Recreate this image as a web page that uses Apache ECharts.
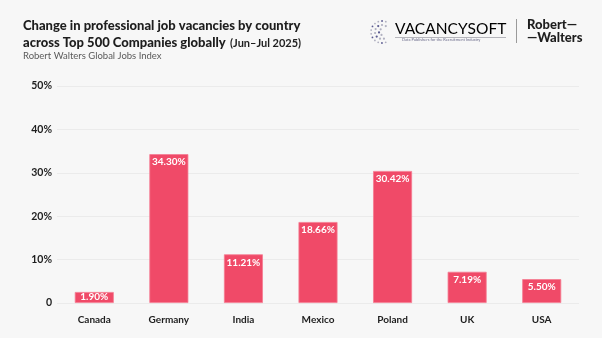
<!DOCTYPE html>
<html><head><meta charset="utf-8">
<script src="https://cdn.jsdelivr.net/npm/echarts@6/dist/echarts.min.js"></script>
<style>html,body{margin:0;padding:0;background:#f7f7f7}#c{width:602px;height:338px}</style>
</head><body><div id="c"></div>
<script>
const categories = ['Canada','Germany','India','Mexico','Poland','UK','USA'];
const values = [1.90, 34.30, 11.21, 18.66, 30.42, 7.19, 5.50];
const yTicks = [0, 10, 20, 30, 40, 50];

const FONT = 'Lato';
const chart = echarts.init(document.getElementById('c'));

// decorative globe dots for logo
const dots = [];
const cx = 382, cy = 32;
for (let r = 3; r <= 11; r += 4) {
  const n = Math.round(r * 1.6);
  for (let i = 0; i < n; i++) {
    const a = (i / n) * Math.PI * 2 + r;
    if (Math.cos(a) > 0.55) continue;
    dots.push({type:'circle', shape:{cx: cx + r*Math.cos(a), cy: cy + r*Math.sin(a), r: r > 8 ? 0.9 : 1.1},
      style:{fill: i % 3 === 0 ? '#5a5a90' : '#b0b0c0'}});
  }
}

const barData = values.map(v => v < 3 ? {value: v, label: {distance: 0, lineHeight: 10}} : v);

chart.setOption({
  backgroundColor: '#f7f7f7',
  textStyle: {fontFamily: FONT},
  title: [{
    text: '{b|Change in professional job vacancies by country}\n{b|across Top 500 Companies globally} {n|(Jun–Jul 2025)}',
    left: 18, top: 13,
    textStyle: {rich: {
      b: {fontFamily: FONT, fontWeight: 900, fontSize: 13, color: '#1e1e1e', lineHeight: 16},
      n: {fontFamily: FONT, fontSize: 11, color: '#1e1e1e', lineHeight: 16}
    }}
  }, {
    text: 'Robert Walters Global Jobs Index',
    left: 18, top: 46,
    textStyle: {fontFamily: FONT, fontSize: 9.5, color: '#5a5a5a', fontWeight: 'normal'}
  }],
  graphic: [
    ...dots,
    {type:'text', left: 395, top: 21, style:{
      text:'{v|VACANCY}{s|SOFT}', rich:{
        v:{fontFamily:FONT, fontSize:15.5, color:'#3e3b78', fontWeight:'normal'},
        s:{fontFamily:FONT, fontSize:15.5, color:'#a5a5ad'}
      }}},
    {type:'rect', shape:{x:395, y:37, width:111, height:1}, style:{fill:'#b5b5bb'}},
    {type:'text', left: 402, top: 38, style:{text:'Data Publishers for the Recruitment Industry', fontFamily:FONT, fontSize:4, fill:'#6a6a8a'}},
    {type:'rect', shape:{x:516, y:19, width:1, height:24}, style:{fill:'#9a9a9a'}},
    {type:'text', left: 527, top: 18, style:{text:'Robert—\n—Walters', fontFamily:FONT, fontSize:13, fontWeight:900, fill:'#1e1e1e', lineHeight:13}}
  ],
  grid: {left: 57, right: 23, top: 86, bottom: 35, containLabel: false},
  xAxis: {
    type: 'category', data: categories,
    axisLine: {show: false}, axisTick: {show: false},
    axisLabel: {fontFamily: FONT, fontSize: 10, fontWeight: 'bold', color: '#1e1e1e', margin: 12}
  },
  yAxis: {
    type: 'value', min: 0, max: 50, interval: 10,
    axisLine: {show: false}, axisTick: {show: false},
    splitLine: {lineStyle: {color: '#ebebeb', width: 1}},
    axisLabel: {fontFamily: FONT, fontSize: 10.5, fontWeight: 'bold', color: '#1e1e1e', margin: 5,
      formatter: v => yTicks.includes(v) ? (v === 0 ? '0' : v + '%') : ''}
  },
  series: [{
    type: 'bar', data: barData, barWidth: 39, barMinHeight: 11,
    itemStyle: {color: '#f04a68', borderColor: '#f57c92', borderWidth: 0.8},
    label: {show: true, position: 'insideTop', distance: 3, color: '#ffffff', fontFamily: FONT, fontSize: 10, fontWeight: 'bold',
      formatter: p => p.value.toFixed(2) + '%'}
  }]
});
</script></body></html>
